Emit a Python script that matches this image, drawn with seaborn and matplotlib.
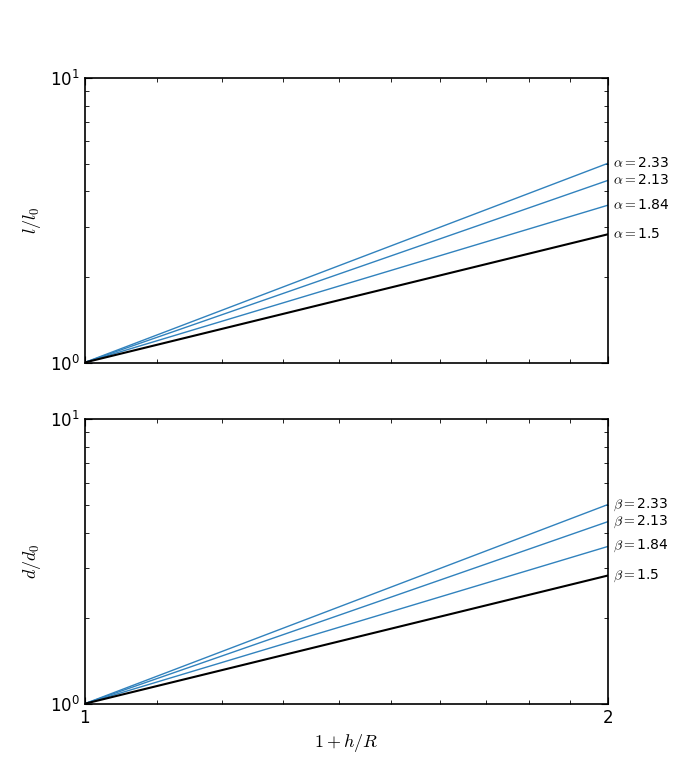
import numpy as np
import pandas as pd
import matplotlib
matplotlib.use("Agg")
import matplotlib.pyplot as plt
import seaborn as sns

sns.set_style("ticks")
plt.rcParams['font.family'] = ['DejaVu Sans']
plt.rcParams['mathtext.fontset'] = 'cm'
plt.rcParams['text.color'] = 'black'
plt.rcParams['axes.labelcolor'] = 'black'
plt.rcParams['xtick.color'] = 'black'
plt.rcParams['ytick.color'] = 'black'
plt.rcParams['axes.edgecolor'] = 'black'

x_vals = [1.0, 2.0]
exponents_blue = [2.33, 2.13, 1.84]
exponent_black = 1.5
top_symbol = r'$\alpha=$'
bot_symbol = r'$\beta=$'
blue = '#3182bd'

fig, axes = plt.subplots(2, 1, figsize=(6.76, 7.82), dpi=100)
fig.subplots_adjust(left=0.125, right=0.9, bottom=0.1, top=0.9, hspace=0.2)

def panel(ax, sym, ylabel):
    rows = []
    for e in exponents_blue:
        for x in x_vals:
            rows.append({'x': x, 'y': x ** e, 'e': str(e)})
    df = pd.DataFrame(rows)
    sns.lineplot(data=df, x='x', y='y', units='e', estimator=None, color=blue,
                 lw=1.0, ax=ax)
    dfb = pd.DataFrame({'x': x_vals, 'y': [x ** exponent_black for x in x_vals]})
    sns.lineplot(data=dfb, x='x', y='y', color='black', lw=1.5, ax=ax)
    ax.set_xscale('log')
    ax.set_yscale('log')
    ax.set_xlim(1, 2)
    ax.set_ylim(1, 10)
    for e in exponents_blue + [exponent_black]:
        ax.text(2.012, 2 ** e, sym + str(e), va='center', ha='left', fontsize=10,
                transform=ax.transData, clip_on=False)
    ax.set_ylabel(ylabel, fontsize=13, labelpad=5)
    ax.set_xlabel('')
    ax.tick_params(which='both', direction='in', top=True, right=True)
    ax.tick_params(which='major', length=5, labelsize=12)
    ax.tick_params(which='minor', length=3)
    ax.xaxis.set_major_locator(matplotlib.ticker.FixedLocator([1, 2]))
    ax.xaxis.set_major_formatter(matplotlib.ticker.FixedFormatter(['1', '2']))
    ax.xaxis.set_minor_locator(matplotlib.ticker.FixedLocator(np.arange(1.1, 2.0, 0.1)))
    ax.xaxis.set_minor_formatter(matplotlib.ticker.NullFormatter())
    ax.yaxis.set_minor_formatter(matplotlib.ticker.NullFormatter())
    for s in ax.spines.values():
        s.set_linewidth(1.2)

panel(axes[0], top_symbol, r'$l/l_0$')
panel(axes[1], bot_symbol, r'$d/d_0$')
axes[0].set_xticklabels([])
axes[1].set_xlabel(r'$1+h/R$', fontsize=13, labelpad=4)

fig.savefig('out.png', dpi=100)
